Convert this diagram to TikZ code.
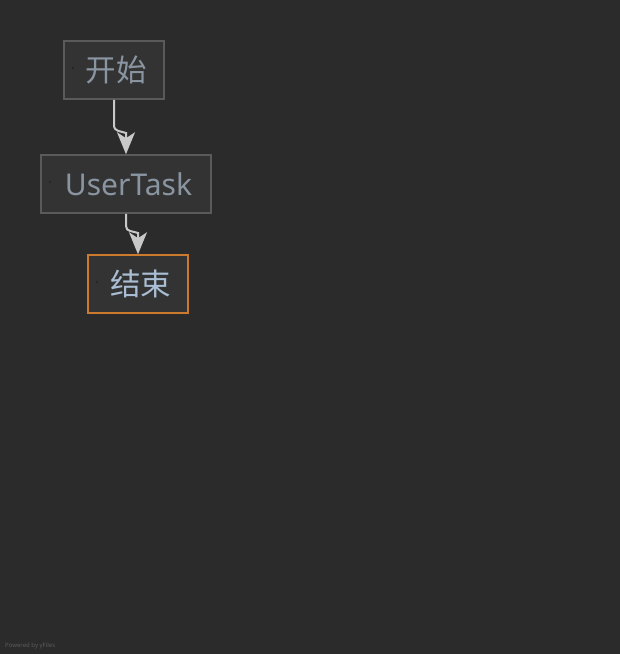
\documentclass[tikz,border=0pt]{standalone}
\usepackage{fontspec}
\usepackage{tikz}
\usetikzlibrary{arrows.meta}
\newfontfamily\cjk{Noto Sans CJK SC}
\newfontfamily\latin{Noto Sans}
\definecolor{bg}{HTML}{2B2B2B}
\definecolor{boxfill}{HTML}{333333}
\definecolor{boxline}{HTML}{5A5A5A}
\definecolor{endline}{HTML}{CC7A2E}
\definecolor{labeltext}{HTML}{8A95A2}
\definecolor{endtext}{HTML}{A9BED4}
\definecolor{flow}{HTML}{C8C8C8}
\definecolor{credit}{HTML}{5C5C5C}

\tikzset{
    task/.style={draw=boxline, fill=boxfill, line width=1.5pt, minimum height=58pt, inner sep=0pt, text=labeltext, font=\cjk\fontsize{30.5}{31}\selectfont},
    endtask/.style={task, draw=endline, text=endtext},
    seqflow/.style={draw=flow, line width=2pt, -{Stealth[length=22pt,width=18pt,inset=6pt]}},
}

\begin{document}
\begin{tikzpicture}[x=1pt, y=-1pt]
    \fill[bg] (0,0) rectangle (620,654);
    \useasboundingbox (0,0) rectangle (620,654);

    \node[task, minimum width=100pt] (start) at (114,70) {\hspace*{5pt}\raisebox{-2.5pt}{开始}};
    \node[task, minimum width=170pt, font=\latin\fontsize{30}{30}\selectfont] (usertask) at (126,184) {\hspace*{5pt}\raisebox{-2pt}{UserTask}};
    \node[endtask, minimum width=100pt] (end) at (138,284) {\hspace*{5pt}\raisebox{-2.5pt}{结束}};

    \fill[black] (73,68) circle (0.6pt);
    \fill[black] (50,182) circle (0.6pt);
    \fill[black] (97,282) circle (0.6pt);

    \draw[seqflow] (start.south) -- (114,125) .. controls (114,132) and (121,131) .. (126,133) -- (usertask.north);
    \draw[seqflow] (usertask.south) -- (126,226) .. controls (126,232) and (133,231) .. (138,233) -- (end.north);

    \node[anchor=west, text=credit, font=\latin\fontsize{6}{7}\selectfont, inner sep=0pt] (powered) at (5,646) {Powered by yFiles};
\end{tikzpicture}
\end{document}
